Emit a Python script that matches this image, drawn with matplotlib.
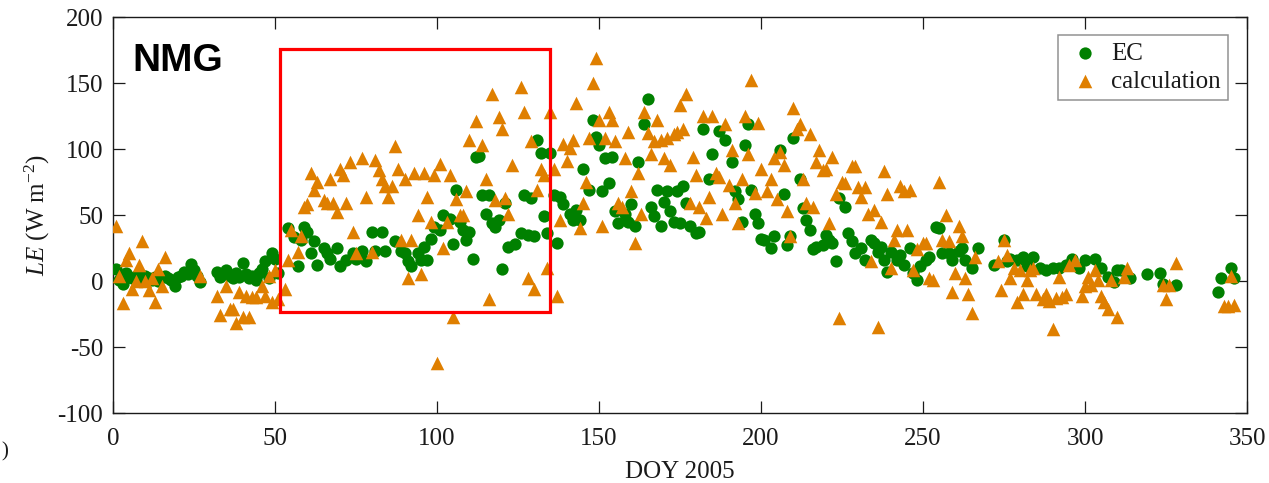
import matplotlib
matplotlib.use("Agg")
import matplotlib.pyplot as plt
from matplotlib.patches import Rectangle

# ---- data: daily latent heat flux at NMG, 2005 ----
doy_ec = [1, 2, 3, 4, 5, 6, 7, 8, 9, 10, 11, 12, 13, 14, 15, 16, 17, 18, 19, 20,
          21, 22, 23, 24, 25, 26, 27,
          32, 33, 34, 35, 36, 37, 38, 39, 40, 41, 42, 43, 44, 45, 46, 47, 48, 49, 50, 51,
          54, 56, 57, 58, 59, 60, 61, 62, 63, 65, 66, 67, 69, 70, 72, 74, 75, 77, 78,
          80, 81, 83, 84, 87, 89, 90, 91, 92, 94, 95, 96, 97, 98, 99, 101, 102, 104,
          105, 106, 107, 108, 109, 110, 111, 112, 113, 114, 115, 116, 117, 118, 119,
          120, 121, 122, 124, 126, 127, 128, 129, 130, 131, 132, 133, 134, 135, 136,
          137, 138, 139, 141, 142, 143, 144, 145, 147, 148, 149, 150, 151, 152, 153,
          154, 155, 156, 158, 159, 160, 161, 162, 164, 165, 166, 167, 168, 169, 170,
          171, 172, 173, 174, 175, 176, 177, 178, 180, 181, 182, 184, 185, 187, 189,
          191, 192, 193, 194, 195, 196, 197, 198, 199, 200, 201, 203, 204, 206, 207,
          208, 209, 210, 212, 213, 214, 215, 216, 217, 219, 220, 221, 222, 223, 224,
          226, 227, 228, 229, 231, 232, 234, 235, 236, 237, 238, 239, 240, 242, 243,
          244, 246, 247, 248, 249, 251, 252, 254, 255, 256, 258, 259, 261, 262, 263,
          265, 267, 272, 275, 276, 277, 279, 281, 282, 284, 286, 288, 290, 292, 294,
          296, 298, 300, 303, 305, 307, 309, 310, 311, 314, 319, 323, 324, 328,
          341, 342, 345, 346]
le_ec = [9, 1, -2, 6, 3, 2, 4, 1, 3, 4, 2, 1, 3, 0, 3, 4, 2, 1, -4, 3,
         4, 7, 5, 13, 8, 4, -1,
         7, 3, 5, 8, 4, 2, 6, 3, 14, 5, 2, 4, 1, 6, 9, 15, 2, 21, 17, 6,
         40, 33, 11, 31, 41, 37, 21, 30, 12, 25, 21, 17, 25, 11, 16, 21, 17, 23, 15,
         37, 23, 37, 23, 30, 23, 21, 15, 11, 21, 16, 26, 16, 32, 41, 39, 50, 47,
         28, 69, 45, 39, 31, 37, 17, 94, 95, 65, 51, 65, 44, 41, 46,
         9, 59, 26, 28, 36, 65, 35, 63, 34, 107, 97, 49, 36, 97, 65,
         29, 64, 58, 51, 46, 54, 46, 85, 69, 122, 109, 103, 68, 93, 74,
         94, 53, 44, 51, 45, 58, 42, 90, 119, 138, 56, 49, 69, 42, 60,
         68, 53, 45, 68, 44, 72, 59, 42, 36, 37, 115, 77, 96, 114, 107,
         90, 68, 62, 45, 103, 119, 69, 51, 44, 32, 31, 25, 34, 99, 66,
         27, 34, 108, 77, 55, 46, 39, 24, 26, 27, 35, 31, 29, 15, 63,
         56, 36, 30, 21, 25, 16, 31, 29, 22, 26, 16, 7, 22, 16, 20,
         12, 25, 6, 1, 11, 16, 18, 41, 40, 21, 21, 16, 23, 25, 16,
         10, 25, 12, 31, 15, 17, 16, 18, 11, 18, 10, 8, 10, 10, 12,
         17, 10, 16, 17, 10, 3, -1, 8, 8, 2, 5, 6, -2, -3,
         -8, 2, 10, 2]

doy_calc = [1, 2, 3, 4, 5, 6, 7, 8, 9, 10, 11, 12, 13, 14, 15, 16, 27,
            32, 33, 35, 36, 37, 38, 39, 40, 41, 42, 43, 44, 46, 47, 48, 49, 50, 51,
            53, 54, 55, 57, 58, 59, 60, 61, 62, 63, 65, 66, 67, 68, 69, 70, 71, 72,
            73, 74, 75, 77, 78, 80, 81, 82, 83, 84, 85, 86, 87, 88, 89, 90, 91, 92,
            93, 94, 95, 96, 97, 98, 99, 100, 101, 102, 103, 104, 105, 106, 107, 108,
            109, 110, 112, 114, 115, 116, 117, 118, 119, 120, 121, 122, 123, 126,
            127, 128, 129, 130, 131, 132, 133, 134, 135, 136, 137, 138, 139, 140,
            141, 142, 143, 144, 145, 146, 147, 148, 149, 150, 151, 152, 153, 154,
            155, 156, 157, 158, 159, 160, 161, 162, 163, 164, 165, 166, 167, 168,
            169, 170, 171, 172, 173, 174, 175, 176, 177, 178, 179, 180, 181, 182,
            183, 184, 185, 186, 187, 188, 189, 190, 191, 192, 193, 194, 195, 196,
            197, 198, 199, 200, 202, 203, 204, 205, 206, 207, 208, 209, 210, 211,
            212, 213, 214, 215, 216, 217, 218, 219, 220, 221, 222, 223, 224, 225,
            226, 228, 229, 230, 231, 232, 233, 234, 235, 236, 237, 238, 239, 240,
            241, 242, 243, 244, 245, 246, 247, 248, 250, 251, 252, 253, 255, 256,
            257, 258, 259, 260, 261, 262, 263, 264, 265, 266, 273, 274, 275, 276,
            277, 278, 279, 280, 281, 282, 283, 284, 285, 287, 288, 289, 290, 291,
            292, 293, 294, 295, 297, 299, 300, 301, 302, 303, 304, 305, 306, 307,
            308, 310, 312, 313, 324, 325, 326, 328, 343, 344, 345, 346]
le_calc = [42, 4, -17, 16, 21, -6, 0, 12, 30, 0, -7, 2, -16, 9, -4, 18, 4,
           -11, -26, -4, -21, -21, -32, -8, -27, -11, -27, -12, -12, -4, -11, 4, -16, 8, -14,
           -6, 16, 39, 22, 34, 56, 58, 82, 69, 75, 61, 59, 77, 59, 52, 85, 80, 59,
           90, 37, 21, 93, 64, 22, 92, 84, 77, 72, 64, 72, 102, 85, 31, 77, 2, 31,
           82, 50, 5, 82, 64, 45, 80, -62, 89, 25, 45, 80, -27, 62, 50, 50,
           68, 107, 121, 103, 77, -14, 142, 61, 124, 115, 63, 51, 88, 147,
           128, 2, 106, -6, 69, 85, 80, 10, 128, 85, -11, 46, 104, 91,
           101, 107, 135, 40, 59, 75, 108, 150, 169, 122, 42, 108, 128, 122,
           106, 59, 56, 93, 113, 68, 29, 82, 51, 128, 112, 96, 106, 122,
           107, 93, 108, 88, 111, 113, 133, 115, 142, 59, 94, 80, 56, 125,
           48, 64, 125, 82, 79, 51, 119, 73, 99, 59, 44, 77, 125, 96,
           152, 67, 120, 85, 68, 77, 93, 62, 98, 88, 53, 34, 131, 115,
           119, 77, 59, 111, 56, 90, 99, 84, 85, 44, 94, 66, -28, 75,
           74, 87, 87, 71, 64, 71, 51, 15, 54, -35, 45, 83, 66, 10,
           31, 39, 72, 68, 39, 69, 8, 24, 29, 29, 2, 1, 75, 31,
           50, 30, -8, 6, 42, 34, 2, -10, -24, 18, 15, -7, 31, 20,
           2, 10, -16, 8, -10, 1, 8, 10, -10, -14, -10, -15, -36, -13,
           3, -12, -10, 12, 16, -11, -4, 3, -3, 8, 1, -11, -16, -21,
           1, -27, 3, 10, -3, -14, -3, 14, -19, -19, 4, -18]

x_ticks = [0, 50, 100, 150, 200, 250, 300, 350]
y_ticks = [-100, -50, 0, 50, 100, 150, 200]
site_name = "NMG"
highlight_doy = (51.5, 135.0)
highlight_le = (-23.5, 175.5)

# ---- style ----
plt.rcParams["font.family"] = ["Liberation Serif", "DejaVu Serif"]
plt.rcParams["mathtext.fontset"] = "custom"
plt.rcParams["mathtext.rm"] = "Liberation Serif"
plt.rcParams["mathtext.it"] = "Liberation Serif:italic"
plt.rcParams["axes.unicode_minus"] = False

green = "#008000"
orange = "#DF7F00"
ink = "#1a1a1a"

fig = plt.figure(figsize=(12.69, 4.83), dpi=100)
ax = fig.add_axes([113 / 1269, 1 - 413 / 483, 1134 / 1269, 396 / 483])

ax.scatter(doy_ec, le_ec, s=78, marker="o", color=green, linewidths=0,
           label="EC", zorder=3)
ax.scatter(doy_calc, le_calc, s=95, marker="^", color=orange, linewidths=0,
           label="calculation", zorder=4)

ax.set_xlim(0, 350)
ax.set_ylim(-100, 200)
ax.set_xticks(x_ticks)
ax.set_yticks(y_ticks)
ax.tick_params(direction="in", length=8.4, width=0.9, top=True, right=True,
               labelsize=18, colors=ink)
ax.tick_params(axis="x", pad=11)
ax.tick_params(axis="y", pad=7)
for sp in ax.spines.values():
    sp.set_linewidth(1.0)
    sp.set_color(ink)

ax.set_xlabel("DOY 2005", fontsize=18, color=ink)
ax.xaxis.set_label_coords(0.5, -0.122)
ax.set_ylabel("$LE$ (W m$^{-2}$)", fontsize=18, color=ink)
ax.yaxis.set_label_coords(-0.054, 0.5)

ax.text(19 / 1134, (413 - 71) / 396, site_name, transform=ax.transAxes,
        family=["Liberation Sans", "DejaVu Sans"], fontweight="bold",
        fontsize=28, va="baseline", ha="left")

rect = Rectangle((highlight_doy[0], highlight_le[0]),
                 highlight_doy[1] - highlight_doy[0],
                 highlight_le[1] - highlight_le[0],
                 fill=False, edgecolor="#FF0000", linewidth=2.3, zorder=5)
ax.add_patch(rect)

leg = ax.legend(loc="upper right", bbox_to_anchor=(1 - 19 / 1134, 1 - 18 / 396),
                borderaxespad=0, fontsize=18, frameon=True, fancybox=False,
                handlelength=1.5, handletextpad=0.3, labelspacing=0.2,
                borderpad=0.3, scatterpoints=1)
leg.get_frame().set_edgecolor("#777777")
leg.get_frame().set_linewidth(1.1)
for t in leg.get_texts():
    t.set_color(ink)

# stray bracket of a neighbouring panel label at the lower-left edge
fig.text(1 / 1269, 1 - 452 / 483, ")", fontsize=15, ha="left", va="center",
         color=ink)

fig.savefig("out.png", dpi=100)
